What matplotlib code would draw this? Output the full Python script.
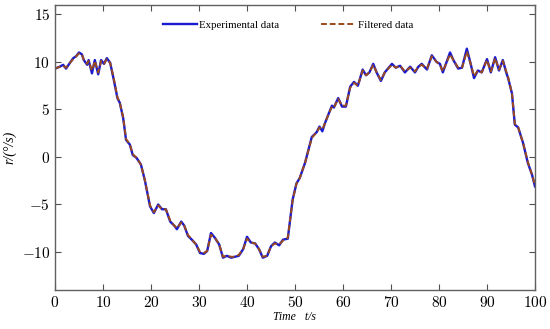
import matplotlib
matplotlib.use("Agg")
import matplotlib.pyplot as plt
from matplotlib.ticker import FuncFormatter

# yaw rate record
t = [0, 1.0, 1.7, 2.3, 3.1, 3.8, 4.4, 5.0, 5.6, 6.0, 6.7, 7.0, 7.7, 8.3, 9.0, 9.6,
     10.2, 10.8, 11.5, 12.3, 13.0, 13.5, 14.2, 14.8, 15.6, 16.2, 17.0, 17.9, 18.7,
     19.8, 20.6, 21.5, 22.3, 23.1, 24.0, 24.8, 25.4, 26.3, 26.9, 27.7, 28.5, 29.4,
     30.2, 31.0, 31.7, 32.5, 33.3, 34.2, 35.0, 35.8, 36.7, 37.5, 38.3, 39.2, 40.0,
     40.8, 41.7, 42.5, 43.3, 44.2, 45.0, 45.8, 46.7, 47.5, 48.5, 49.5, 50.3, 51.0,
     52.1, 53.5, 54.5, 55.1, 55.7, 56.2, 56.9, 57.7, 58.1, 59.0, 59.8, 60.6, 61.5,
     62.3, 63.1, 64.1, 64.8, 65.5, 66.3, 67.0, 67.9, 68.7, 70.2, 71.0, 71.9, 72.9,
     74.0, 75.0, 75.7, 76.4, 77.5, 78.5, 79.5, 80.2, 80.8, 82.3, 83.0, 84.0, 84.8,
     85.8, 86.6, 87.3, 88.1, 88.9, 90.0, 90.8, 91.7, 92.5, 93.3, 94.0, 94.4, 95.2,
     95.8, 96.5, 97.5, 98.5, 99.4, 100]

r_exp = [9.3, 9.5, 9.7, 9.3, 9.9, 10.4, 10.6, 11.0, 10.8, 10.2, 9.7, 10.2, 8.8, 10.2, 8.7, 10.2,
         9.8, 10.4, 9.9, 8.0, 6.2, 5.7, 4.1, 1.8, 1.3, 0.2, -0.1, -0.8, -2.4,
         -5.2, -5.9, -5.0, -5.5, -5.5, -6.8, -7.2, -7.6, -6.8, -7.2, -8.3, -8.7, -9.2,
         -10.1, -10.2, -9.9, -8.0, -8.5, -9.2, -10.6, -10.4, -10.6, -10.5, -10.4, -9.7, -8.4,
         -9.0, -9.1, -9.7, -10.6, -10.4, -9.4, -9.0, -9.3, -8.7, -8.6, -4.5, -2.8, -2.2,
         -0.6, 2.1, 2.6, 3.2, 2.7, 3.5, 4.4, 5.4, 5.2, 6.2, 5.3, 5.3, 7.4,
         7.9, 7.5, 9.2, 8.6, 8.9, 9.8, 8.9, 8.0, 8.9, 9.8, 9.4, 9.6, 8.9,
         9.5, 8.9, 9.5, 9.8, 9.2, 10.7, 10.0, 9.8, 8.9, 11.0, 10.2, 9.3, 9.4,
         11.4, 9.8, 8.3, 9.1, 8.9, 10.3, 8.9, 10.5, 9.1, 10.2, 8.9, 8.3, 6.7,
         3.4, 3.1, 1.5, -0.6, -1.9, -3.1]

r_filt = [9.3, 9.5, 9.6, 9.4, 9.9, 10.3, 10.6, 10.9, 10.8, 10.2, 9.8, 10.1, 9.1, 10.1, 8.9, 10.1,
          9.8, 10.3, 9.9, 8.1, 6.3, 5.7, 4.2, 1.9, 1.3, 0.3, -0.1, -0.8, -2.4,
          -5.1, -5.8, -5.1, -5.5, -5.5, -6.7, -7.2, -7.5, -6.9, -7.2, -8.2, -8.7, -9.2,
          -10.0, -10.1, -9.9, -8.2, -8.5, -9.2, -10.5, -10.4, -10.5, -10.5, -10.3, -9.7, -8.6,
          -9.0, -9.1, -9.7, -10.5, -10.4, -9.4, -9.1, -9.2, -8.8, -8.5, -4.6, -2.8, -2.2,
          -0.6, 2.0, 2.6, 3.1, 2.9, 3.5, 4.4, 5.3, 5.2, 6.1, 5.4, 5.4, 7.3,
          7.8, 7.5, 9.1, 8.6, 8.9, 9.7, 8.9, 8.1, 8.9, 9.7, 9.4, 9.6, 9.0,
          9.4, 9.0, 9.5, 9.7, 9.3, 10.6, 10.0, 9.7, 9.0, 10.8, 10.2, 9.4, 9.4,
          11.1, 9.8, 8.5, 9.1, 8.9, 10.2, 9.0, 10.4, 9.2, 10.1, 9.0, 8.4, 6.7,
          3.5, 3.1, 1.5, -0.5, -1.9, -3.0]

x_ticks = list(range(0, 101, 10))
y_ticks = [-10, -5, 0, 5, 10, 15]

plt.rcParams['mathtext.fontset'] = 'cm'

fig = plt.figure(figsize=(5.5, 3.29), dpi=100)
ax = fig.add_axes([0.1, 0.1185, 0.8727, 0.8665])

ax.plot(t, r_exp, color='#1a1ad0', lw=1.7, label='Experimental data')
ax.plot(t, r_filt, color='#9a4a1c', lw=1.4, ls='--', dashes=(3, 1.5), label='Filtered data')

ax.set_xlim(0, 100)
ax.set_ylim(-14, 16)
ax.set_xticks(x_ticks)
ax.set_yticks(y_ticks)
cm_fmt = FuncFormatter(lambda v, pos: r'$%d$' % round(v))
ax.xaxis.set_major_formatter(cm_fmt)
ax.yaxis.set_major_formatter(cm_fmt)
ax.tick_params(direction='in', top=True, right=True, labeltop=False, labelright=False,
               length=4, width=0.8, color='#505050', labelsize=11)
for s in ax.spines.values():
    s.set_color('#606060')
    s.set_linewidth(1.0)

ax.set_xlabel('Time   t/s', fontfamily='Liberation Serif', style='italic', fontsize=8.5, labelpad=1)
ax.set_ylabel('r/(°/s)', fontfamily='Liberation Serif', style='italic', fontsize=10, labelpad=4)

ax.legend(loc='upper center', ncol=2, frameon=False, bbox_to_anchor=(0.485, 0.98),
          prop={'family': 'Liberation Serif', 'size': 7.8}, handlelength=3.2,
          columnspacing=3.8, handletextpad=0.2)

fig.savefig('out.png', dpi=100)
